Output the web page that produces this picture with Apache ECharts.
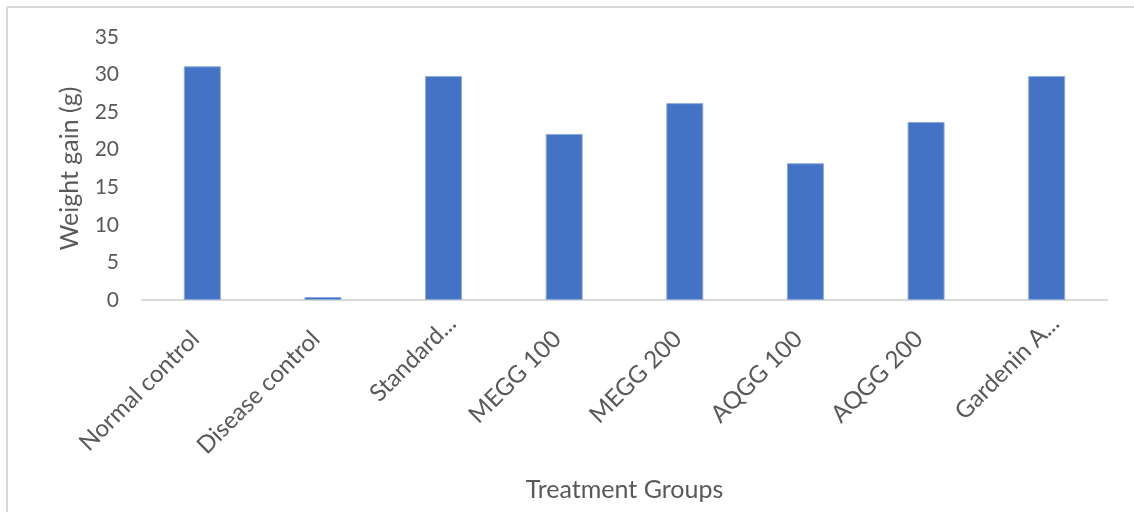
<!DOCTYPE html>
<html>
<head>
<meta charset="utf-8">
<script src="https://cdn.jsdelivr.net/npm/echarts@6/dist/echarts.min.js"></script>
<style>
  html, body { margin: 0; padding: 0; background: #fff; }
  #chart { width: 1134px; height: 512px; }
</style>
</head>
<body>
<div id="chart"></div>
<script>
// Treatment groups and mean weight gain per group
const categories = ['Normal control', 'Disease control', 'Standard...', 'MEGG 100', 'MEGG 200', 'AQGG 100', 'AQGG 200', 'Gardenin A...'];
const weightGain = [31.1, 0.4, 29.8, 22.1, 26.2, 18.2, 23.7, 29.8];
const yTicks = { min: 0, max: 35, interval: 5 };

const textColor = '#595959';
const fontFamily = 'Lato, "Open Sans", sans-serif';

const chart = echarts.init(document.getElementById('chart'), null, { renderer: 'canvas' });
chart.setOption({
  backgroundColor: '#fff',
  animation: false,
  graphic: [
    // frame lines along the top and left edges of the chart area
    { type: 'line', shape: { x1: 7, y1: 7, x2: 1134, y2: 7 }, style: { stroke: '#d9d9d9', lineWidth: 2 } },
    { type: 'line', shape: { x1: 7, y1: 7, x2: 7, y2: 512 }, style: { stroke: '#d9d9d9', lineWidth: 2 } }
  ],
  grid: { left: 142, right: 27, top: 37, bottom: 212, containLabel: false },
  xAxis: {
    type: 'category',
    data: categories,
    name: 'Treatment Groups',
    nameLocation: 'middle',
    nameGap: 177,
    nameTextStyle: { color: textColor, fontSize: 25, fontFamily },
    axisLine: { lineStyle: { color: '#d9d9d9', width: 2 } },
    axisTick: { show: false },
    axisLabel: {
      rotate: 45,
      align: 'right',
      verticalAlign: 'top',
      color: textColor,
      fontSize: 24,
      fontFamily,
      margin: 11,
      interval: 0,
      // full-length names sit a little further down the diagonal than shortened ones
      formatter: (v) => v.endsWith('...') ? v : v + '{gap| }',
      rich: { gap: { width: 22, fontSize: 24 } }
    }
  },
  yAxis: {
    type: 'value',
    min: yTicks.min,
    max: yTicks.max,
    interval: yTicks.interval,
    name: 'Weight gain (g)',
    nameLocation: 'middle',
    nameGap: 60,
    nameRotate: 90,
    nameTextStyle: { color: textColor, fontSize: 25, fontFamily },
    axisLine: { show: false },
    axisTick: { show: false },
    splitLine: { show: false },
    axisLabel: { color: textColor, fontSize: 21, fontFamily, margin: 23 }
  },
  series: [{
    type: 'bar',
    data: weightGain,
    barWidth: 37,
    itemStyle: { color: '#4472c4', borderColor: '#8eaadb', borderWidth: 1 }
  }]
});
</script>
</body>
</html>
